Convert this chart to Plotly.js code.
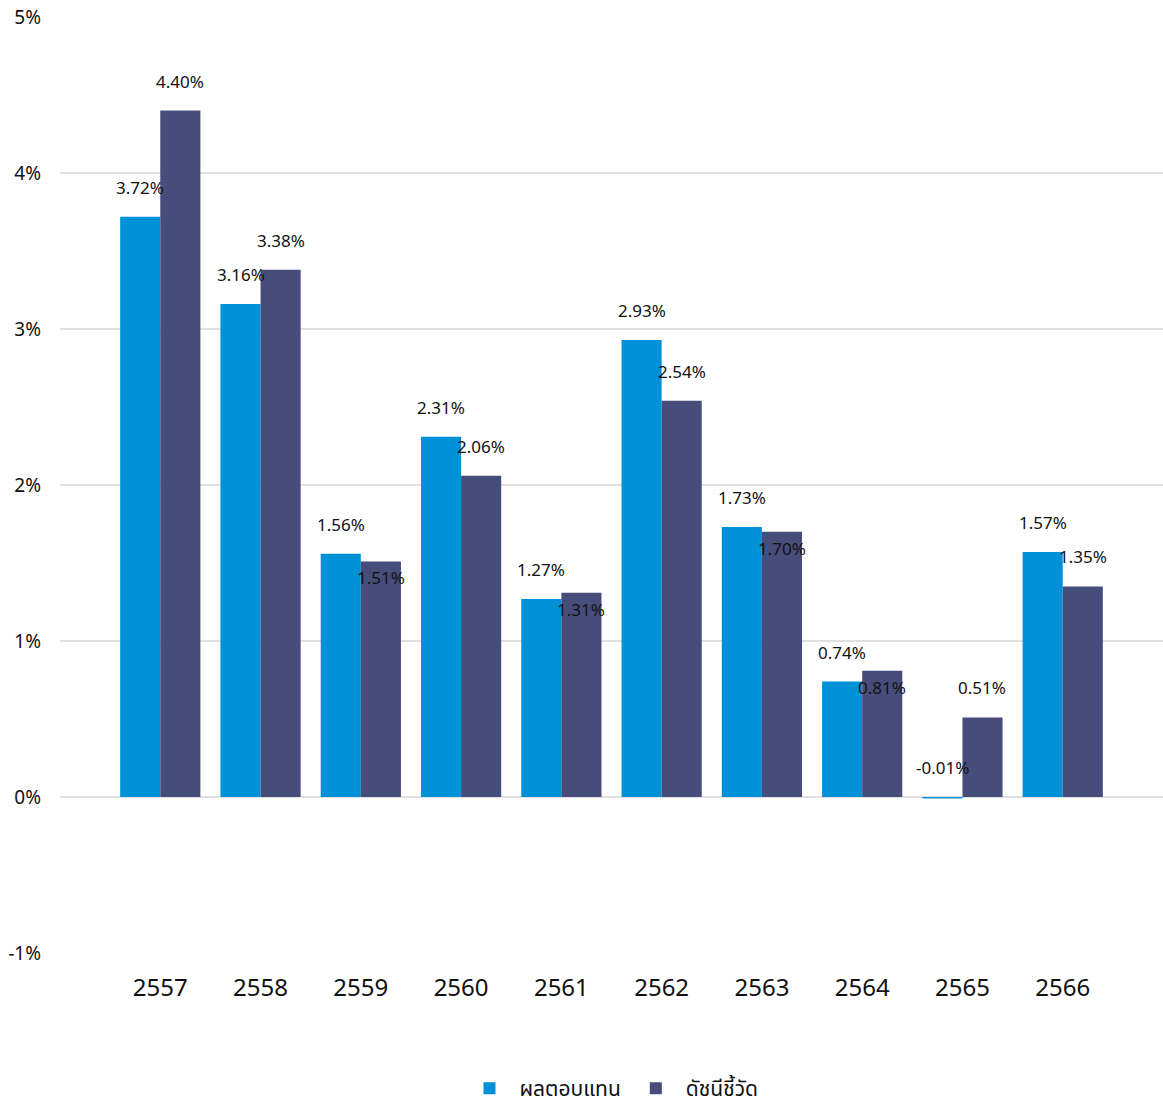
<!DOCTYPE html>
<html><head><meta charset="utf-8">
<script src="https://cdn.plot.ly/plotly-3.0.1.min.js"></script>
<style>body{margin:0;background:#fff}</style></head>
<body><div id="chart" style="width:1163px;height:1109px"></div>
<script>
const years     = ["2557","2558","2559","2560","2561","2562","2563","2564","2565","2566"];
const fundRet   = [3.72, 3.16, 1.56, 2.31, 1.27, 2.93, 1.73, 0.74, -0.01, 1.57];
const benchRet  = [4.40, 3.38, 1.51, 2.06, 1.31, 2.54, 1.70, 0.81, 0.51, 1.35];
const fundBelow  = [0,0,0,0,0,0,0,0,0,0];
const benchBelow = [0,0,1,0,1,0,1,1,0,0];

const FUND_COLOR  = "#0091d8";
const BENCH_COLOR = "#474d7a";
const FONT = "'Noto Sans Thai', 'Noto Sans', Tahoma, sans-serif";

const traces = [
  { type: "bar", name: "ผลตอบแทน", x: years, y: fundRet, marker: { color: FUND_COLOR }, hoverinfo: "skip" },
  { type: "bar", name: "ดัชนีชี้วัด", x: years, y: benchRet, marker: { color: BENCH_COLOR }, hoverinfo: "skip" },
];

/* category axis: annotations placed by category index */
const annotations = [];
function addLabels(vals, below, shift) {
  vals.forEach((v, i) => {
    annotations.push({
      x: i, y: Math.max(v, 0), xref: "x", yref: "y",
      text: v.toFixed(2) + "%", showarrow: false,
      xshift: shift, yshift: below[i] ? -18 : 28,
      font: { size: 17, color: "#111", family: FONT },
    });
  });
}
addLabels(fundRet, fundBelow, -20);
addLabels(benchRet, benchBelow, 20);

const layout = {
  paper_bgcolor: "#fff", plot_bgcolor: "#fff",
  font: { family: FONT, color: "#111" },
  margin: { l: 60, r: 0, t: 17, b: 156 },
  barmode: "group", bargap: 0.2, bargroupgap: 0,
  xaxis: { type: "category", range: [-1, 10], showgrid: false, tickfont: { size: 24 }, ticks: "", ticklabelstandoff: 18 },
  yaxis: { range: [-1, 5], dtick: 1, ticksuffix: "%", gridcolor: "#e0e0e0", gridwidth: 2.5,
           zeroline: false, tickfont: { size: 19 }, ticklabelstandoff: 18 },
  legend: { orientation: "h", x: 0.5, xanchor: "center", yref: "container", y: -0.006, yanchor: "bottom",
            font: { size: 21 }, itemwidth: 50 },
  annotations,
  showlegend: true,
};

Plotly.newPlot("chart", traces, layout, { displayModeBar: false, staticPlot: true });
</script></body></html>
